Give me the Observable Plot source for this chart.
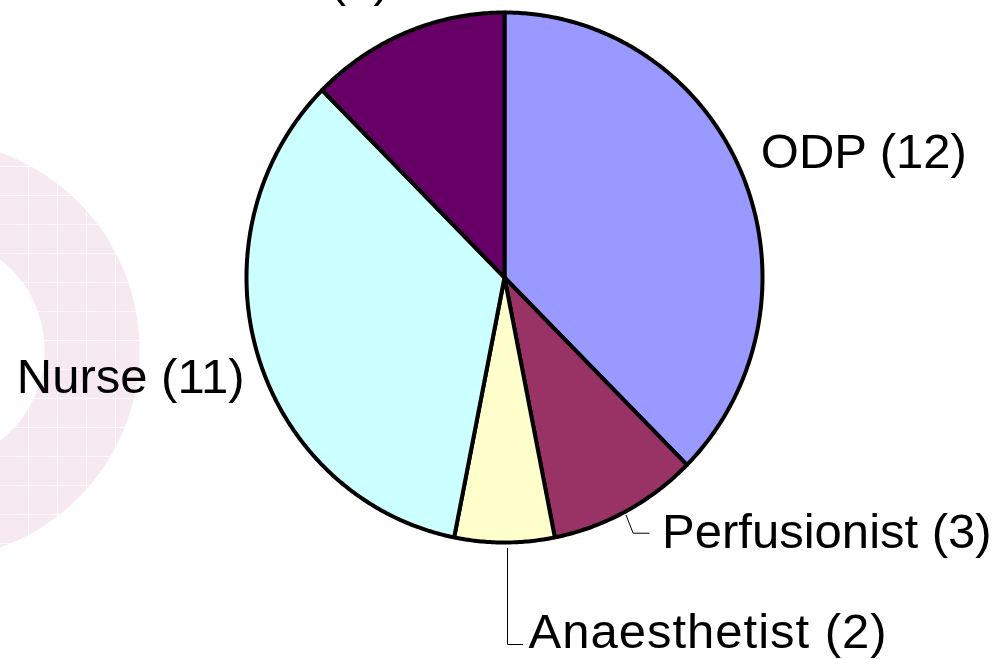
<!DOCTYPE html>
<html>
<head>
<meta charset="utf-8">
<script src="https://cdn.jsdelivr.net/npm/d3@7"></script>
<script src="https://cdn.jsdelivr.net/npm/@observablehq/plot@0.6"></script>
<style>
  html, body { margin: 0; padding: 0; background: #fff; }
  #chart {
    width: 997px; height: 659px; overflow: hidden;
    background:
      repeating-linear-gradient(90deg, rgba(255,255,255,0) 0 28px, rgba(255,255,255,0.75) 28px 29px),
      repeating-linear-gradient(0deg, rgba(255,255,255,0) 0 28px, rgba(255,255,255,0.75) 28px 29px),
      radial-gradient(circle at -70px 350px, rgba(255,255,255,0) 0 114px, #f7e9f0 115px 209px, rgba(255,255,255,0) 210px);
  }
</style>
</head>
<body>
<div id="chart"></div>
<script>
// ---- data ----
const categories = ["ODP", "Perfusionist", "Anaesthetist", "Nurse", "Other"];
const counts = [12, 3, 2, 11, 4];
const colors = ["#9999ff", "#993366", "#ffffcc", "#ccffff", "#660066"];

// ---- layout (pixels) ----
const W = 997, H = 659;
const cx = 504, cy = 277, rx = 258, ry = 265;
// label placement relative to the slice's mid-angle rim point (pixels)
const labelLayout = {
  "ODP":          {dx: 18,  dy: -8,  anchor: "start", spacing: 0},
  "Perfusionist": {dx: 36,  dy: 37,  anchor: "start", spacing: 0, leader: [[0, 4], [7, 22], [23, 22]]},
  "Anaesthetist": {dx: 24,  dy: 105, anchor: "start", spacing: 1, leader: [[3, 6], [3, 102], [18, 102]]},
  "Nurse":        {dx: -13, dy: 39,  anchor: "end", spacing: 0},
  "Other":        {dx: -16, dy: -37, anchor: "end", spacing: 0}
};

const rows = categories.map((c, i) => ({category: c, value: counts[i], color: colors[i]}));
const arcs = d3.pie().sort(null).value(d => d.value).startAngle(0).endAngle(2 * Math.PI)(rows);

// slice polygons in unit coordinates (x = sin a, y = cos a)
const slicePts = [];
for (const a of arcs) {
  const cat = a.data.category;
  slicePts.push({category: cat, x: 0, y: 0});
  const n = Math.max(2, Math.ceil((a.endAngle - a.startAngle) / (Math.PI / 360)));
  for (let k = 0; k <= n; k++) {
    const t = a.startAngle + (a.endAngle - a.startAngle) * k / n;
    slicePts.push({category: cat, x: Math.sin(t), y: Math.cos(t)});
  }
  slicePts.push({category: cat, x: 0, y: 0});
}

// helper: rim point at mid angle shifted by pixel offset -> unit coords
function rimOffset(a, px, py) {
  const m = (a.startAngle + a.endAngle) / 2;
  return {x: Math.sin(m) + px / rx, y: Math.cos(m) - py / ry};
}

const labels = arcs.map(a => {
  const L = labelLayout[a.data.category];
  const p = rimOffset(a, L.dx, L.dy);
  return {category: a.data.category, text: `${a.data.category} (${a.data.value})`, anchor: L.anchor, spacing: L.spacing, x: p.x, y: p.y};
});

const leaderPts = [];
for (const a of arcs) {
  const L = labelLayout[a.data.category];
  if (!L.leader) continue;
  for (const [px, py] of L.leader) leaderPts.push({category: a.data.category, ...rimOffset(a, px, py)});
}

const font = "'Liberation Sans', Arial, Helvetica, sans-serif";

const chart = Plot.plot({
  width: W,
  height: H,
  margin: 0,
  style: {background: "none", overflow: "visible"},
  x: {domain: [-1, 1], range: [cx - rx, cx + rx], axis: null},
  y: {domain: [-1, 1], range: [cy + ry, cy - ry], axis: null},
  color: {type: "ordinal", domain: categories, range: colors},
  marks: [
    Plot.line(slicePts, {
      x: "x", y: "y", z: "category", fill: "category",
      stroke: "#000", strokeWidth: 4, strokeLinejoin: "round", curve: "linear"
    }),
    Plot.line(leaderPts, {x: "x", y: "y", z: "category", stroke: "#000", strokeWidth: 1, strokeLinejoin: "miter"}),
    ...labels.map(l => Plot.text([l], {
      x: "x", y: "y", text: "text",
      textAnchor: l.anchor, lineAnchor: "bottom",
      fontSize: 49, fontFamily: font, fill: "#000",
      style: {letterSpacing: l.spacing + "px"}
    }))
  ]
});

// apply per-label letter spacing
chart.querySelectorAll("text").forEach(t => {
  const lab = labels.find(l => l.text === t.textContent);
  if (lab && lab.spacing) t.setAttribute("letter-spacing", lab.spacing);
});

document.getElementById("chart").appendChild(chart);
</script>
</body>
</html>
